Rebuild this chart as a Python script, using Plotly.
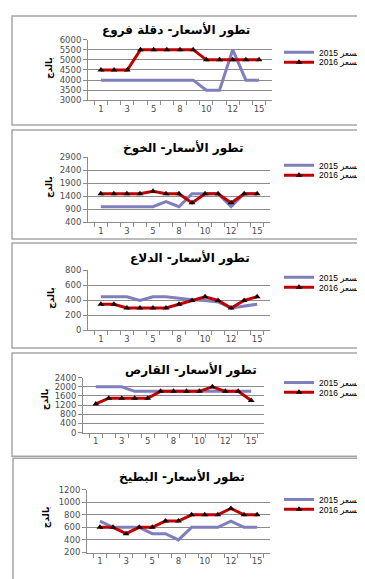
import plotly.graph_objects as go

# ---------------- data ----------------
categories = ["1", "2", "3", "4", "5", "7", "8", "9", "10", "11", "12", "14", "15"]
shown_labels = ["1", "3", "5", "8", "10", "12", "15"]

titles = [
    "تطور الأسعار- دقلة فروع",
    "تطور الأسعار- الخوخ",
    "تطور الأسعار- الدلاع",
    "تطور الأسعار- القارص",
    "تطور الأسعار- البطيخ",
]
series_names = ["2015 السعر", "2016 السعر"]
y_title = "بالدج"

deglet_2015 = [4000, 4000, 4000, 4000, 4000, 4000, 4000, 4000, 3500, 3500, 5500, 4000, 4000]
deglet_2016 = [4500, 4500, 4500, 5500, 5500, 5500, 5500, 5500, 5000, 5000, 5000, 5000, 5000]

peach_2015 = [1000, 1000, 1000, 1000, 1000, 1200, 1000, 1500, 1500, 1500, 1000, 1500, 1500]
peach_2016 = [1500, 1500, 1500, 1500, 1600, 1500, 1500, 1150, 1500, 1500, 1150, 1500, 1500]

watermelon_2015 = [450, 450, 450, 400, 450, 450, 430, 410, 400, 380, 300, 320, 350]
watermelon_2016 = [350, 350, 300, 300, 300, 300, 350, 400, 450, 400, 300, 400, 450]

cantaloupe_2015 = [2000, 2000, 2000, 1800, 1800, 1800, 1800, 1800, 1800, 1800, 1800, 1800, 1800]
cantaloupe_2016 = [1250, 1500, 1500, 1500, 1500, 1800, 1800, 1800, 1800, 2000, 1800, 1800, 1400]

melon_2015 = [700, 600, 600, 600, 500, 500, 400, 600, 600, 600, 700, 600, 600]
melon_2016 = [600, 600, 500, 600, 600, 700, 700, 800, 800, 800, 900, 800, 800]

y_ranges = [[3000, 6000], [400, 2900], [0, 800], [0, 2400], [200, 1200]]
y_steps = [500, 500, 200, 400, 200]

series_2015 = [deglet_2015, peach_2015, watermelon_2015, cantaloupe_2015, melon_2015]
series_2016 = [deglet_2016, peach_2016, watermelon_2016, cantaloupe_2016, melon_2016]

# ---------------- layout (pixels) ----------------
W, H = 365, 579
plot_x = [(80, 264), (80, 262), (80, 262), (75, 256), (79, 262)]
plot_y = [(27, 89), (147, 213), (262, 323), (371, 427), (485, 549)]
boxes = [(4, 3, 363, 114), (4, 119, 363, 230), (4, 234, 363, 341), (4, 346, 363, 451), (5, 453, 361, 600)]
title_pos = [(168, 17), (175, 137), (182, 249), (183, 363), (174, 472)]
ytitle_pos = [(41, 56), (42, 177), (44, 290), (37, 393), (38, 513)]
legend_rows = [(52, 62), (167, 177), (281, 291), (388, 398), (507, 517)]
LEGEND_SHIFT = -12

PURPLE = "#7F7FBD"
RED = "#C00000"
GRID = "#8C8C8C"
AXIS = "#8C8C8C"
TICKFONT = dict(family="DejaVu Sans", size=8.5, color="#4d4d4d")

fig = go.Figure()
layout = dict(
    width=W, height=H, margin=dict(l=0, r=0, t=0, b=0),
    paper_bgcolor="white", plot_bgcolor="white", showlegend=True,
    shapes=[], annotations=[],
)

def px(x):
    return x / W

def py(y):
    return 1 - y / H

ticktext = [c if c in shown_labels else "" for c in categories]

for k in range(5):
    n = k + 1
    xa = "x" if n == 1 else f"x{n}"
    ya = "y" if n == 1 else f"y{n}"
    lg_a = "legend" if k == 0 else f"legend{2 * k + 1}"
    lg_b = f"legend{2 * k + 2}"

    fig.add_trace(go.Scatter(
        x=categories, y=series_2015[k], name=series_names[0], mode="lines",
        line=dict(color=PURPLE, width=3), xaxis=xa, yaxis=ya, legend=lg_a,
    ))
    fig.add_trace(go.Scatter(
        x=categories, y=series_2016[k], name=series_names[1], mode="lines+markers",
        line=dict(color=RED, width=3),
        marker=dict(symbol="triangle-up", size=6, color="#1a0000"),
        xaxis=xa, yaxis=ya, legend=lg_b,
    ))

    xkey = "xaxis" if n == 1 else f"xaxis{n}"
    ykey = "yaxis" if n == 1 else f"yaxis{n}"
    x0, x1 = plot_x[k]
    y0, y1 = plot_y[k]
    layout[xkey] = dict(
        domain=[px(x0), px(x1)], anchor=ya, type="category",
        tickmode="array", tickvals=categories, ticktext=ticktext, tickangle=0,
        tickson="boundaries", ticks="outside", ticklen=4, tickcolor=AXIS,
        showline=True, linecolor=AXIS, linewidth=1, showgrid=False,
        tickfont=TICKFONT, fixedrange=True,
    )
    layout[ykey] = dict(
        domain=[py(y1), py(y0)], anchor=xa, range=y_ranges[k],
        tick0=y_ranges[k][0], dtick=y_steps[k],
        showgrid=True, gridcolor=GRID, gridwidth=1, zeroline=False,
        showline=True, linecolor=AXIS, linewidth=1,
        ticks="outside", ticklen=4, tickcolor=AXIS,
        tickfont=TICKFONT, fixedrange=True,
    )

    r2015, r2016 = legend_rows[k]
    for key, yy in ((lg_a, r2015), (lg_b, r2016)):
        layout[key] = dict(
            x=px(271), y=py(yy + LEGEND_SHIFT), xanchor="left", yanchor="middle",
            bgcolor="rgba(0,0,0,0)", borderwidth=0,
            font=dict(family="Liberation Sans, DejaVu Sans", size=8.5, color="#000000"),
            itemwidth=30, tracegroupgap=0,
        )

    bx0, by0, bx1, by1 = boxes[k]
    layout["shapes"].append(dict(
        type="rect", xref="paper", yref="paper",
        x0=px(bx0), x1=px(bx1), y0=py(by1), y1=py(by0),
        line=dict(color="#A6A6A6", width=1.5), fillcolor="rgba(0,0,0,0)",
    ))

    tx, ty = title_pos[k]
    layout["annotations"].append(dict(
        text="<b>" + titles[k] + "</b>", xref="paper", yref="paper",
        x=px(tx), y=py(ty), xanchor="center", yanchor="middle", showarrow=False,
        font=dict(family="DejaVu Sans", size=12, color="#000000"),
    ))
    ax_, ay_ = ytitle_pos[k]
    layout["annotations"].append(dict(
        text="<b>" + y_title + "</b>", xref="paper", yref="paper",
        x=px(ax_), y=py(ay_), xanchor="center", yanchor="middle", showarrow=False,
        textangle=-90, font=dict(family="DejaVu Sans", size=9, color="#000000"),
    ))

fig.update_layout(**layout)
fig.write_html("out.html")
